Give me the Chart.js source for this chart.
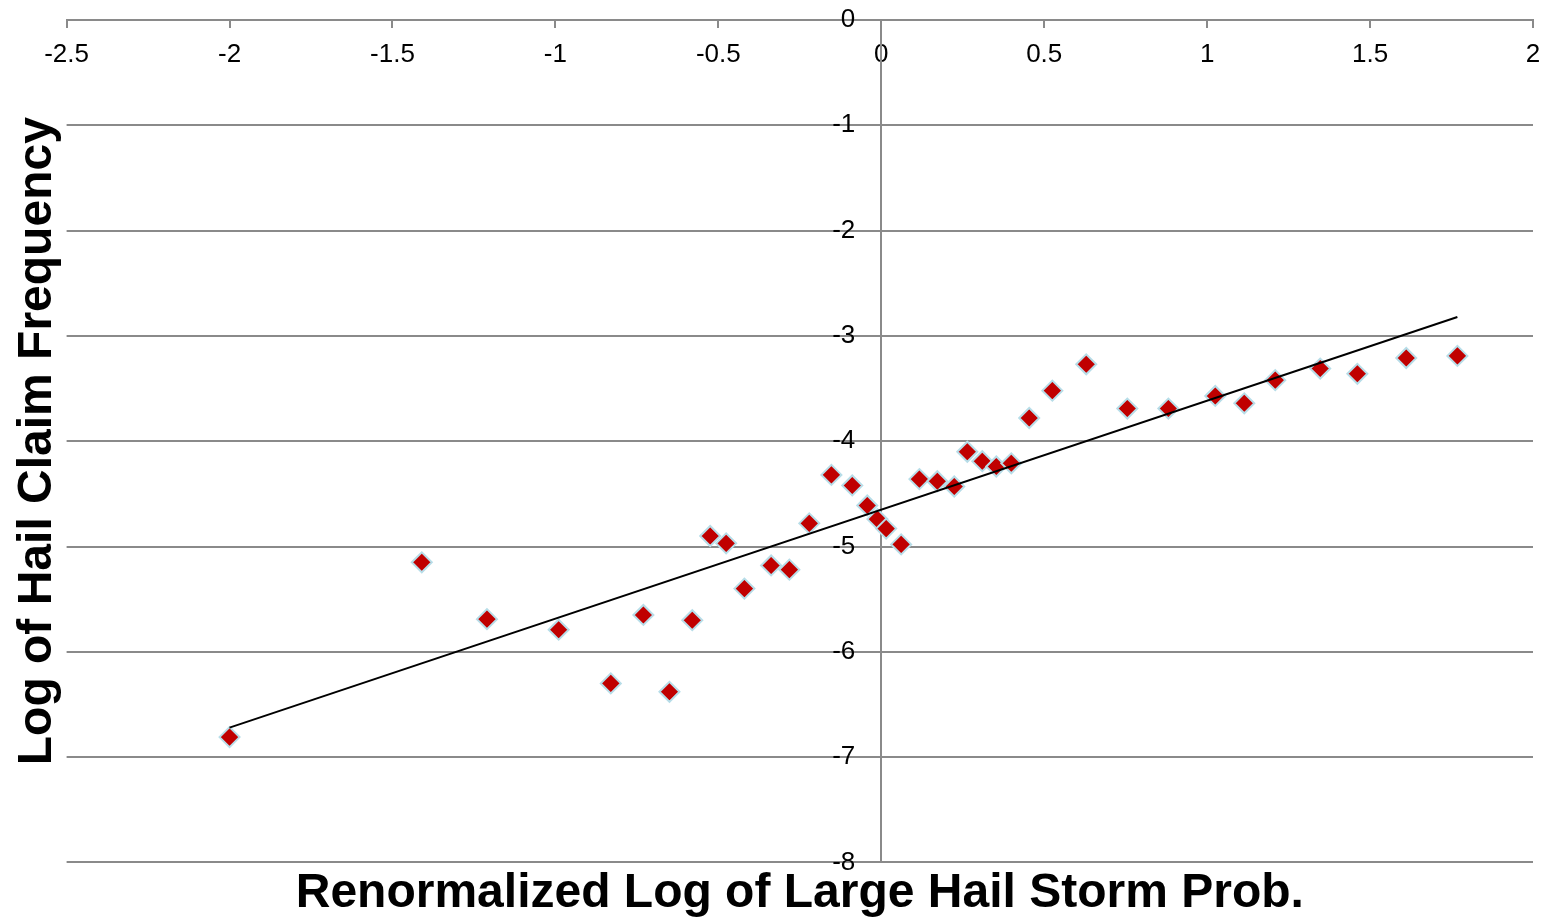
<!DOCTYPE html>
<html>
<head>
<meta charset="utf-8">
<script src="https://cdn.jsdelivr.net/npm/chart.js@4/dist/chart.umd.min.js"></script>
<style>
  html, body { margin: 0; padding: 0; background: #fff; }
  #wrap { width: 1550px; height: 923px; }
</style>
</head>
<body>
<div id="wrap"><canvas id="chart"></canvas></div>
<script>
// values
const stormProb = [-2.00, -1.41, -1.21, -0.99, -0.83, -0.73, -0.65, -0.58, -0.525, -0.476,
  -0.42, -0.338, -0.282, -0.221, -0.153, -0.089, -0.043, -0.012, 0.015, 0.061,
  0.117, 0.172, 0.224, 0.264, 0.31, 0.353, 0.399, 0.454, 0.525, 0.629,
  0.755, 0.881, 1.025, 1.114, 1.209, 1.347, 1.461, 1.611, 1.768]
const claimFreq = [-6.81, -5.15, -5.69, -5.79, -6.30, -5.65, -6.38, -5.70, -4.90, -4.97,
  -5.40, -5.18, -5.22, -4.78, -4.32, -4.42, -4.61, -4.74, -4.83, -4.98,
  -4.36, -4.38, -4.43, -4.10, -4.19, -4.24, -4.21, -3.78, -3.52, -3.27,
  -3.69, -3.69, -3.57, -3.64, -3.42, -3.31, -3.36, -3.21, -3.19]

// linear trendline end points
const trendX = [-2.0, 1.768]
const trendY = [-6.72, -2.82]

const xTicks = [-2.5, -2, -1.5, -1, -0.5, 0, 0.5, 1, 1.5, 2]
const yTicks = [0, -1, -2, -3, -4, -5, -6, -7, -8]

const xTitle = 'Renormalized Log of Large Hail Storm Prob.'
const yTitle = 'Log of Hail Claim Frequency'

const gridGray = '#8a8a8a'
Chart.defaults.font.family = '"Liberation Sans", Arial, sans-serif'
Chart.defaults.color = '#000'

const ctx = document.querySelector('#chart').getContext('2d')

new Chart(ctx, {
  type: 'scatter',
  data: {
    datasets: [
      {
        label: 'Linear',
        type: 'line',
        data: trendX.map((x, i) => ({x: x, y: trendY[i]})),
        borderColor: '#000',
        borderWidth: 2,
        pointRadius: 0,
        fill: false
      },
      {
        label: 'Claims',
        data: stormProb.map((x, i) => ({x: x, y: claimFreq[i]})),
        pointStyle: 'rectRot',
        pointRadius: 10,
        pointHoverRadius: 10,
        backgroundColor: '#c00000',
        borderColor: '#b7dde8',
        borderWidth: 2
      }
    ]
  },
  options: {
    responsive: true,
    maintainAspectRatio: false,
    animation: false,
    layout: { padding: { top: 20, right: 17, bottom: 0, left: 0 } },
    plugins: {
      legend: { display: false },
      tooltip: { enabled: false },
      title: {
        display: true,
        position: 'left',
        fullSize: false,
        text: yTitle,
        font: { size: 48, weight: 'bold' },
        lineHeight: 1.2,
        padding: { top: 9, bottom: 0 }
      },
      subtitle: {
        display: true,
        position: 'bottom',
        fullSize: false,
        text: xTitle,
        color: '#000',
        font: { size: 48, weight: 'bold' },
        lineHeight: 1.2,
        padding: { top: 3, bottom: 0 }
      }
    },
    scales: {
      x: {
        type: 'linear',
        position: { y: 0 },
        min: -2.5,
        max: 2,
        afterBuildTicks: s => { s.ticks = xTicks.map(v => ({value: v})) },
        ticks: {
          font: { size: 26, lineHeight: 1.45 },
          padding: 9,
          maxRotation: 0,
          callback: v => String(v)
        },
        grid: { drawOnChartArea: false, drawTicks: true, tickLength: 7, color: gridGray, lineWidth: 2 },
        border: { display: true, color: gridGray, width: 2 }
      },
      y: {
        type: 'linear',
        position: { x: 0 },
        min: -8,
        max: 0,
        afterBuildTicks: s => { s.ticks = yTicks.map(v => ({value: v})) },
        ticks: {
          font: { size: 26 },
          // labels sit right on the axis line here, so pad with two en spaces
          callback: v => String(v) + '\u2002\u2002'
        },
        grid: { color: gridGray, lineWidth: 2, tickLength: 7 },
        border: { display: true, color: gridGray, width: 2 }
      }
    }
  }
})
</script>
</body>
</html>
